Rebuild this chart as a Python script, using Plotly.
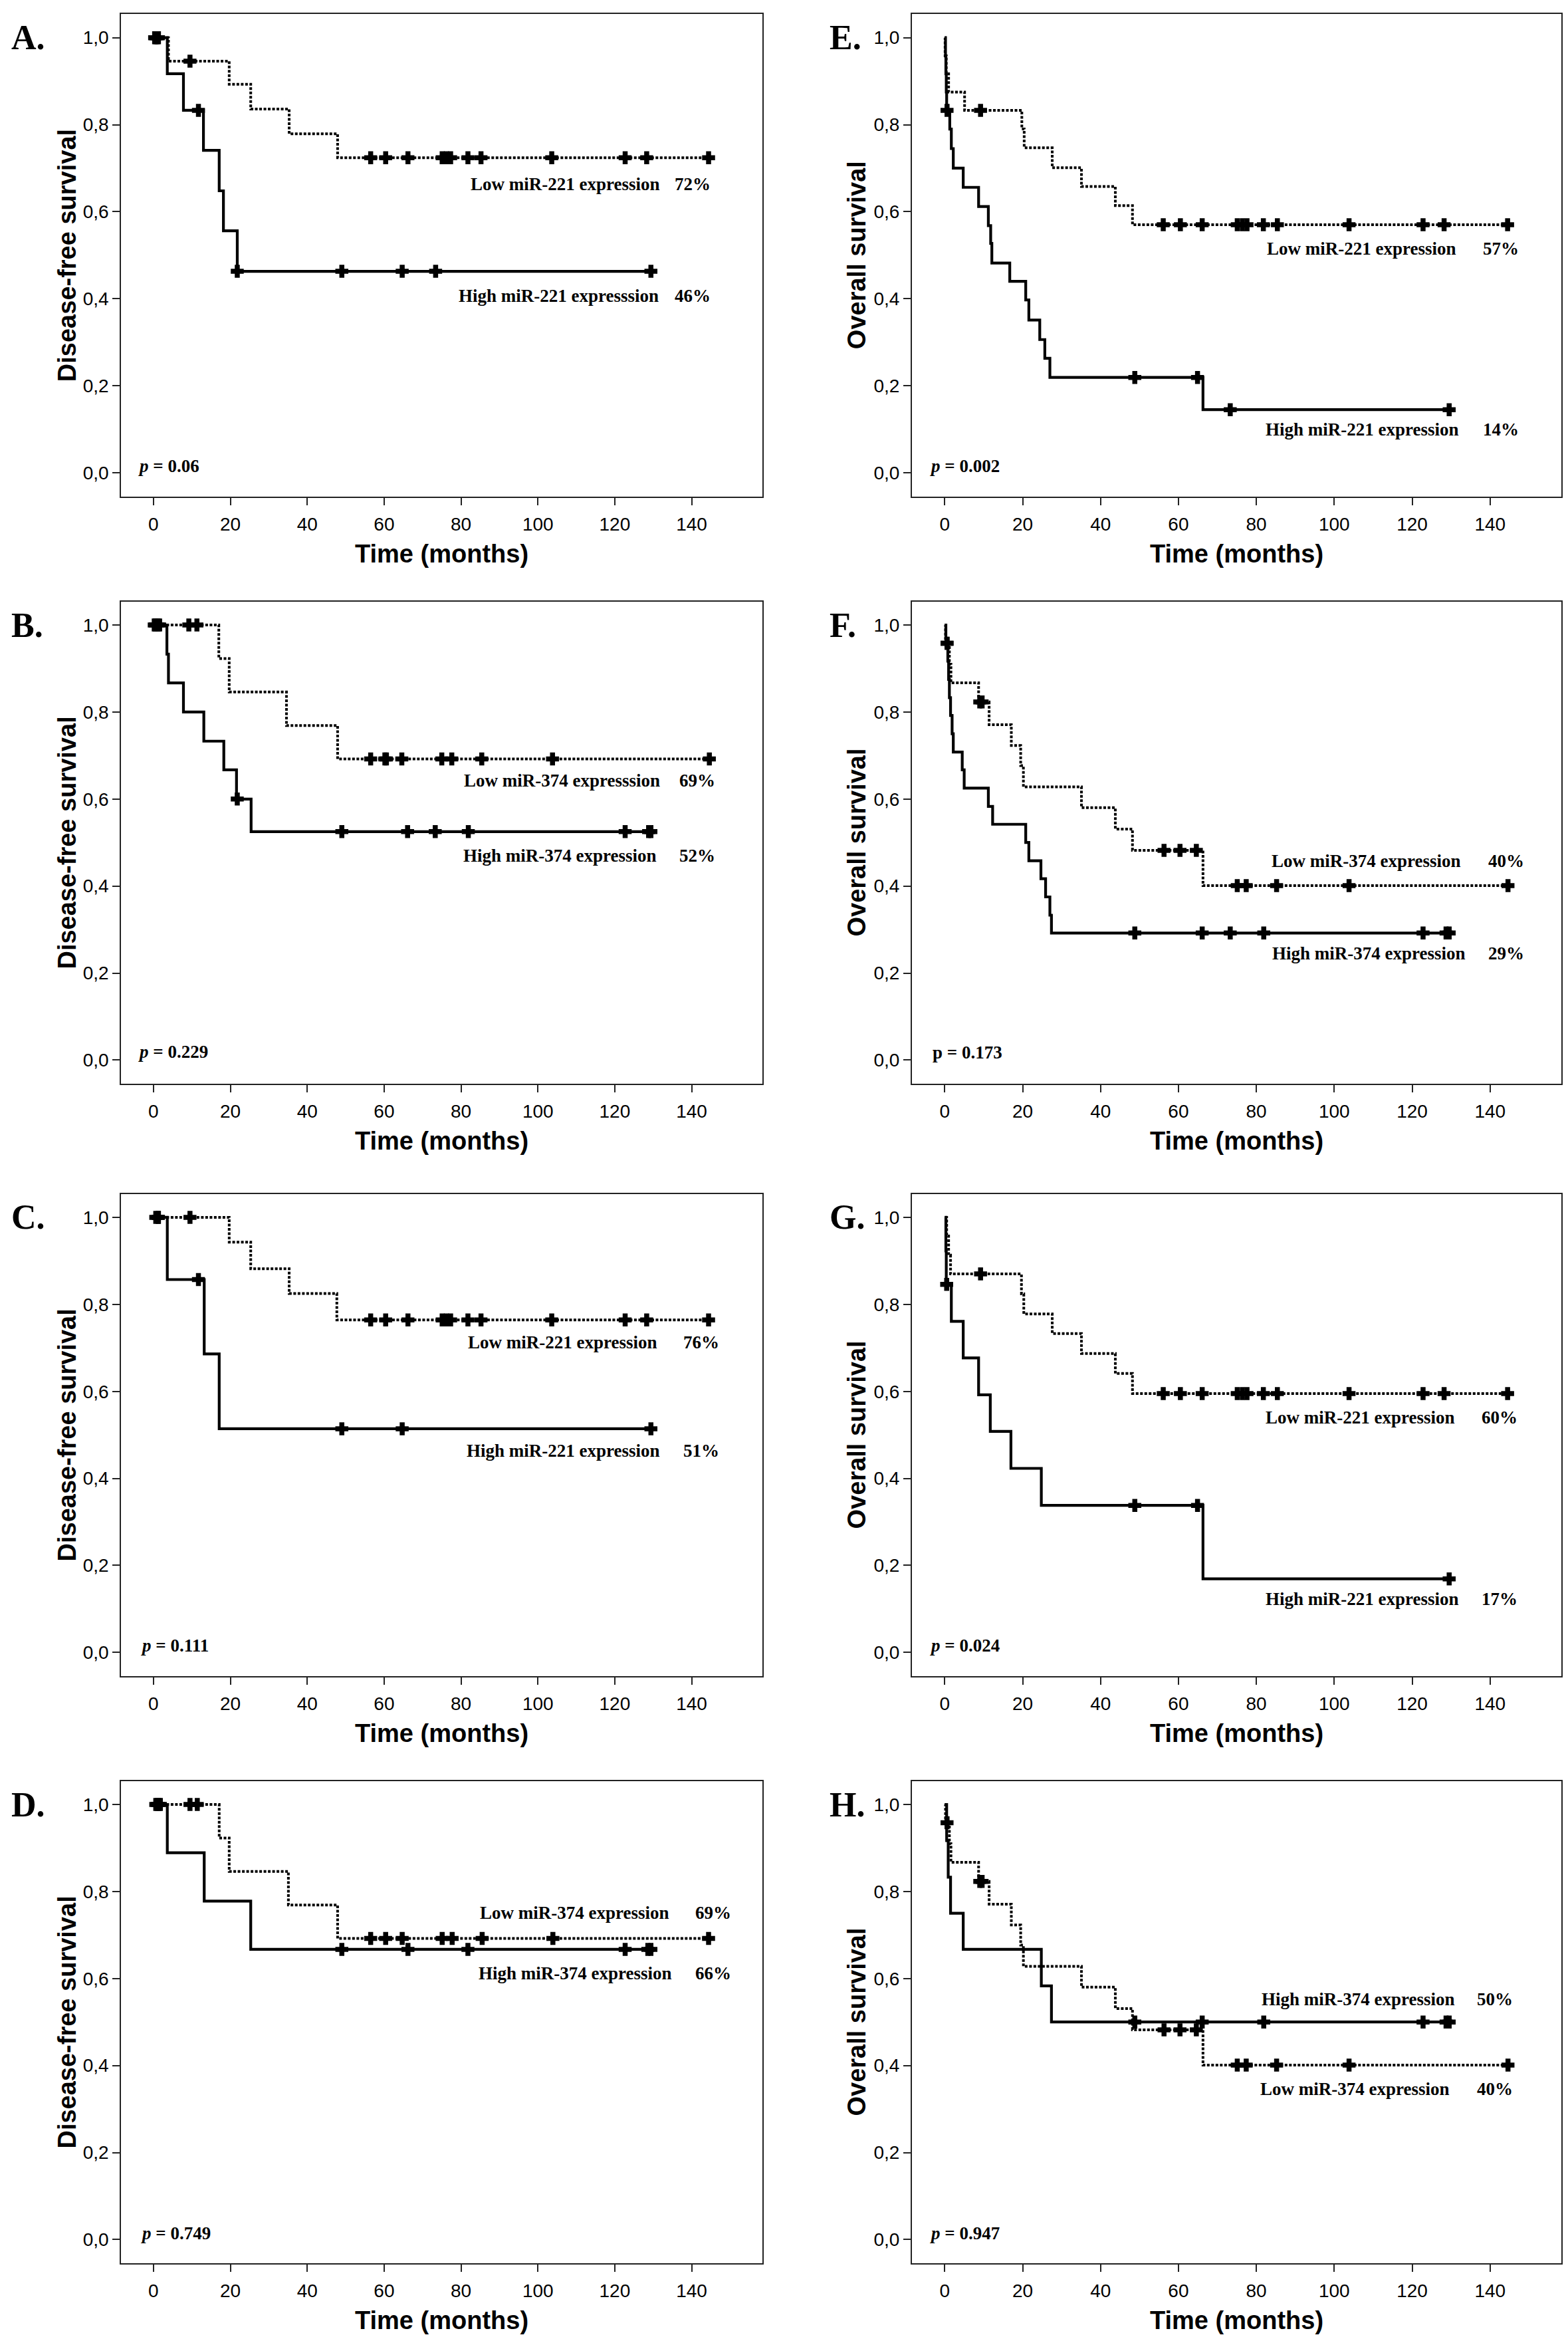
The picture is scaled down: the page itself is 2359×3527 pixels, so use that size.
import plotly.graph_objects as go

# ---------------- data ----------------
TIME_TICKS = [0, 20, 40, 60, 80, 100, 120, 140]
SURV_TICKS = [0.0, 0.2, 0.4, 0.6, 0.8, 1.0]
SURV_TICKTEXT = ["0,0", "0,2", "0,4", "0,6", "0,8", "1,0"]

# Panel A - Disease-free survival, miR-221
A_high_t = [0, 3.6, 7.8, 13.0, 17.1, 18.2, 21.8, 129.4]
A_high_s = [1.0, 0.917, 0.833, 0.741, 0.648, 0.556, 0.463, 0.463]
A_high_c = [0.6, 1.3, 11.7, 21.8, 49.0, 64.7, 73.4, 129.4]
A_low_t = [0, 3.9, 19.7, 25.3, 35.3, 47.9, 144.4]
A_low_s = [1.0, 0.946, 0.893, 0.836, 0.779, 0.724, 0.724]
A_low_c = [0.3, 1.0, 9.5, 56.5, 60.4, 66.2, 75.1, 76.2, 77.3, 81.8, 85.2, 103.6, 122.7, 128.3, 144.4]

# Panel E - Overall survival, miR-221
E_high_t = [0, 0.2, 0.3, 0.4, 0.5, 1.3, 1.7, 2.2, 4.75, 8.7, 11.2, 11.8, 12.1, 16.7, 20.8, 21.6, 24.4, 25.7, 27.0, 66.3, 129.5]
E_high_s = [1.0, 0.958, 0.917, 0.875, 0.833, 0.79, 0.745, 0.70, 0.656, 0.612, 0.568, 0.527, 0.482, 0.44, 0.397, 0.351, 0.306, 0.263, 0.219, 0.145, 0.145]
E_high_c = [0.6, 48.8, 64.9, 73.3, 129.5]
E_low_t = [0, 0.1, 0.4, 1.0, 5.1, 19.8, 20.4, 27.6, 35.1, 43.8, 48.2, 144.5]
E_low_s = [1.0, 0.958, 0.917, 0.875, 0.833, 0.79, 0.747, 0.701, 0.658, 0.614, 0.570, 0.570]
E_low_c = [9.2, 56.1, 60.5, 66.1, 75.1, 76.4, 77.6, 81.8, 85.4, 103.8, 122.8, 128.2, 144.5]

# Panel B - Disease-free survival, miR-374
B_high_t = [0, 3.5, 3.9, 7.8, 13.1, 18.3, 21.6, 25.4, 129.4]
B_high_s = [1.0, 0.933, 0.867, 0.80, 0.733, 0.667, 0.60, 0.525, 0.525]
B_high_c = [0.5, 1.2, 21.8, 49.0, 66.1, 73.3, 81.9, 122.7, 128.8, 129.4]
B_low_t = [0, 17.0, 19.7, 34.6, 47.9, 144.6]
B_low_s = [1.0, 0.923, 0.846, 0.769, 0.692, 0.692]
B_low_c = [0.2, 1.6, 9.2, 11.3, 56.5, 60.2, 60.6, 64.6, 75.0, 77.6, 85.4, 103.8, 144.6]

# Panel F - Overall survival, miR-374
F_high_t = [0, 0.3, 0.8, 1.0, 1.2, 1.5, 1.9, 2.2, 4.5, 5.0, 11.2, 12.3, 20.8, 21.6, 24.7, 25.9, 27.0, 27.4, 129.5]
F_high_s = [1.0, 0.958, 0.917, 0.875, 0.833, 0.792, 0.75, 0.708, 0.667, 0.625, 0.583, 0.542, 0.50, 0.458, 0.417, 0.375, 0.333, 0.292, 0.292]
F_high_c = [0.6, 48.8, 66.1, 73.3, 81.9, 122.8, 128.7, 129.5]
F_low_t = [0, 0.2, 1.2, 1.6, 8.7, 11.4, 17.1, 19.5, 20.2, 35.1, 43.8, 48.2, 66.3, 144.6]
F_low_s = [1.0, 0.958, 0.91, 0.867, 0.823, 0.771, 0.723, 0.677, 0.628, 0.58, 0.531, 0.482, 0.401, 0.401]
F_low_c = [0.6, 9.0, 9.6, 56.3, 60.4, 64.6, 75.1, 77.4, 85.2, 103.8, 144.6]

# Panel C - Disease-free survival, miR-221
C_high_t = [0, 3.6, 13.2, 17.1, 129.4]
C_high_s = [1.0, 0.857, 0.686, 0.514, 0.514]
C_high_c = [0.6, 1.2, 11.7, 49.0, 64.7, 129.4]
C_low_t = [0, 19.7, 25.3, 35.3, 47.7, 144.4]
C_low_s = [1.0, 0.943, 0.882, 0.825, 0.764, 0.764]
C_low_c = [1.3, 9.5, 56.5, 60.4, 66.2, 75.1, 76.2, 77.3, 81.8, 85.2, 103.6, 122.7, 128.3, 144.4]

# Panel G - Overall survival, miR-221
G_high_t = [0, 0.3, 0.4, 1.7, 4.75, 8.7, 11.7, 17.0, 24.8, 66.3, 129.5]
G_high_s = [1.0, 0.923, 0.846, 0.761, 0.677, 0.592, 0.508, 0.423, 0.338, 0.169, 0.169]
G_high_c = [0.5, 48.8, 64.9, 129.5]
G_low_t = [0, 0.5, 1.0, 1.5, 19.7, 20.3, 27.6, 35.1, 43.8, 48.2, 144.5]
G_low_s = [1.0, 0.957, 0.913, 0.870, 0.824, 0.778, 0.733, 0.687, 0.641, 0.595, 0.595]
G_low_c = [9.2, 56.1, 60.5, 66.1, 75.1, 76.4, 77.6, 81.8, 85.4, 103.8, 122.8, 128.2, 144.5]

# Panel D - Disease-free survival, miR-374
D_high_t = [0, 3.6, 13.2, 25.3, 129.4]
D_high_s = [1.0, 0.889, 0.778, 0.667, 0.667]
D_high_c = [0.6, 1.8, 49.0, 66.2, 81.8, 122.7, 128.6, 129.4]
D_low_t = [0, 17.1, 19.7, 35.1, 47.9, 144.4]
D_low_s = [1.0, 0.923, 0.846, 0.769, 0.692, 0.692]
D_low_c = [1.0, 1.4, 9.5, 11.4, 56.5, 60.4, 64.7, 75.1, 77.7, 85.5, 103.9, 144.4]

# Panel H - Overall survival, miR-374
H_high_t = [0, 0.5, 0.9, 1.5, 4.75, 24.8, 27.4, 129.5]
H_high_s = [1.0, 0.917, 0.833, 0.75, 0.667, 0.583, 0.50, 0.50]
H_high_c = [48.8, 66.1, 81.9, 122.8, 128.7, 129.5]
H_low_t = [0, 0.2, 1.2, 1.6, 8.7, 11.4, 17.1, 19.5, 20.2, 35.1, 43.8, 48.2, 66.3, 144.6]
H_low_s = [1.0, 0.958, 0.91, 0.867, 0.823, 0.771, 0.723, 0.677, 0.628, 0.58, 0.531, 0.482, 0.401, 0.401]
H_low_c = [0.6, 9.0, 9.6, 56.3, 60.4, 64.6, 75.1, 77.4, 85.2, 103.8, 144.6]

# panel texts
PANEL_LETTERS = ["A.", "E.", "B.", "F.", "C.", "G.", "D.", "H."]
Y_TITLES = ["Disease-free survival", "Overall survival"] * 4
LOW_LABELS = ["Low miR-221 expression", "Low miR-221 expression", "Low miR-374 expresssion",
              "Low miR-374 expression", "Low miR-221 expression", "Low miR-221 expression",
              "Low miR-374 expression", "Low miR-374 expression"]
HIGH_LABELS = ["High miR-221 expresssion", "High miR-221 expression", "High miR-374 expression",
               "High miR-374 expression", "High miR-221 expression", "High miR-221 expression",
               "High miR-374 expression", "High miR-374 expression"]
LOW_PCT = ["72%", "57%", "69%", "40%", "76%", "60%", "69%", "40%"]
HIGH_PCT = ["46%", "14%", "52%", "29%", "51%", "17%", "66%", "50%"]
P_TEXTS = ["<i>p</i> = 0.06", "<i>p</i> = 0.002", "<i>p</i> = 0.229", "p = 0.173",
           "<i>p</i> = 0.111", "<i>p</i> = 0.024", "<i>p</i> = 0.749", "<i>p</i> = 0.947"]
# label positions (data coords): label right x, pct right x, y
LOW_POS = [(132.2, 145.2, 0.664), (131.6, 147.7, 0.515), (132.1, 146.4, 0.643), (132.9, 149.0, 0.457),
           (131.4, 147.5, 0.713), (131.4, 147.4, 0.540), (134.5, 150.6, 0.751), (130.0, 146.2, 0.346)]
HIGH_POS = [(131.8, 145.2, 0.407), (132.4, 147.7, 0.099), (131.3, 146.4, 0.470), (134.0, 149.0, 0.245),
            (132.2, 147.5, 0.463), (132.3, 147.4, 0.122), (135.3, 150.6, 0.612), (131.3, 146.2, 0.552)]
P_POS = [(-4.25, 0.015), (-4.1, 0.015), (-4.3, 0.019), (-3.5, 0.017),
         (-3.6, 0.015), (-4.1, 0.015), (-3.6, 0.015), (-4.1, 0.015)]

CURVES = [
    (A_high_t, A_high_s, A_high_c, A_low_t, A_low_s, A_low_c),
    (E_high_t, E_high_s, E_high_c, E_low_t, E_low_s, E_low_c),
    (B_high_t, B_high_s, B_high_c, B_low_t, B_low_s, B_low_c),
    (F_high_t, F_high_s, F_high_c, F_low_t, F_low_s, F_low_c),
    (C_high_t, C_high_s, C_high_c, C_low_t, C_low_s, C_low_c),
    (G_high_t, G_high_s, G_high_c, G_low_t, G_low_s, G_low_c),
    (D_high_t, D_high_s, D_high_c, D_low_t, D_low_s, D_low_c),
    (H_high_t, H_high_s, H_high_c, H_low_t, H_low_s, H_low_c),
]

# ---------------- layout geometry ----------------
W, H = 2359, 3527
ROW_TOP = [13.3, 896.7, 1787.6, 2670.7]
BOX_H = 725.7
Y_RANGE = [-0.055, 1.054]
COL_BOX = [(174.3, 1139.0), (1364.0, 2341.0)]
COL_XRANGE = [[-8.4, 158.4], [-8.41, 158.3]]
COL_YTITLE_X = [93.0, 1281.0]
COL_LETTER_X = [7.0, 1238.0]

SERIF = "Liberation Serif"
SANS = "Liberation Sans"


def surv_at(ts, ss, tc):
    v = ss[0]
    for t, s in zip(ts, ss):
        if t <= tc:
            v = s
    return v


fig = go.Figure()
annotations = []
layout_axes = {}

for i in range(8):
    row, col = i // 2, i % 2
    n = i + 1
    xname = "x" if n == 1 else f"x{n}"
    yname = "y" if n == 1 else f"y{n}"
    xkey = "xaxis" if n == 1 else f"xaxis{n}"
    ykey = "yaxis" if n == 1 else f"yaxis{n}"

    top_px = ROW_TOP[row]
    bot_px = ROW_TOP[row] + BOX_H
    one_px = top_px + (Y_RANGE[1] - 1.0) / (Y_RANGE[1] - Y_RANGE[0]) * BOX_H
    x0, x1 = COL_BOX[col]

    layout_axes[xkey] = dict(
        domain=[x0 / W, x1 / W], range=COL_XRANGE[col], anchor=yname,
        tickvals=TIME_TICKS, ticks="outside", ticklen=11, tickwidth=2, tickcolor="#222",
        tickfont=dict(family=SANS, size=28, color="black"), ticklabelstandoff=4,
        showline=True, linecolor="#222", linewidth=2, mirror=True,
        showgrid=False, zeroline=False, fixedrange=True,
    )
    layout_axes[ykey] = dict(
        domain=[1 - bot_px / H, 1 - top_px / H], range=Y_RANGE, anchor=xname,
        tickvals=SURV_TICKS, ticktext=SURV_TICKTEXT, ticks="outside", ticklen=11,
        tickwidth=2, tickcolor="#222",
        tickfont=dict(family=SANS, size=28, color="black"), ticklabelstandoff=0,
        showline=True, linecolor="#222", linewidth=2, mirror=True,
        showgrid=False, zeroline=False, fixedrange=True,
    )

    ht, hs, hc, lt, ls, lc = CURVES[i]
    # low expression: dotted
    fig.add_trace(go.Scatter(x=lt, y=ls, mode="lines", xaxis=xname, yaxis=yname,
                             line=dict(shape="hv", color="black", width=4, dash="4px,2.5px"),
                             showlegend=False, hoverinfo="skip"))
    fig.add_trace(go.Scatter(x=lc, y=[surv_at(lt, ls, c) for c in lc], mode="markers",
                             xaxis=xname, yaxis=yname,
                             marker=dict(symbol="cross", size=15, color="black",
                                         line=dict(color="black", width=1.5)),
                             showlegend=False, hoverinfo="skip"))
    # high expression: solid
    fig.add_trace(go.Scatter(x=ht, y=hs, mode="lines", xaxis=xname, yaxis=yname,
                             line=dict(shape="hv", color="black", width=4.2),
                             showlegend=False, hoverinfo="skip"))
    fig.add_trace(go.Scatter(x=hc, y=[surv_at(ht, hs, c) for c in hc], mode="markers",
                             xaxis=xname, yaxis=yname,
                             marker=dict(symbol="cross", size=15, color="black",
                                         line=dict(color="black", width=1.5)),
                             showlegend=False, hoverinfo="skip"))

    lab_font = dict(family=SERIF, size=27, color="black", weight="bold")
    lx, lpx, ly = LOW_POS[i]
    hx, hpx, hy = HIGH_POS[i]
    annotations += [
        dict(x=lx, y=ly, xref=xname, yref=yname, text=LOW_LABELS[i], showarrow=False,
             xanchor="right", yanchor="middle", font=lab_font),
        dict(x=lpx, y=ly, xref=xname, yref=yname, text=LOW_PCT[i], showarrow=False,
             xanchor="right", yanchor="middle", font=lab_font),
        dict(x=hx, y=hy, xref=xname, yref=yname, text=HIGH_LABELS[i], showarrow=False,
             xanchor="right", yanchor="middle", font=lab_font),
        dict(x=hpx, y=hy, xref=xname, yref=yname, text=HIGH_PCT[i], showarrow=False,
             xanchor="right", yanchor="middle", font=lab_font),
        dict(x=P_POS[i][0], y=P_POS[i][1], xref=xname, yref=yname, text=P_TEXTS[i],
             showarrow=False, xanchor="left", yanchor="middle", font=lab_font),
        # axis titles
        dict(x=(x0 + x1) / 2 / W, y=1 - (bot_px + 86) / H, xref="paper", yref="paper",
             text="Time (months)", showarrow=False, xanchor="center", yanchor="middle",
             font=dict(family=SANS, size=38, color="black", weight="bold")),
        dict(x=COL_YTITLE_X[col] / W, y=1 - (top_px + bot_px) / 2 / H, xref="paper", yref="paper",
             text=Y_TITLES[i], textangle=-90, showarrow=False, xanchor="center",
             yanchor="middle", font=dict(family=SANS, size=38, color="black", weight="bold")),
        # panel letter
        dict(x=COL_LETTER_X[col] / W, y=1 - one_px / H, xref="paper", yref="paper",
             text=PANEL_LETTERS[i], showarrow=False, xanchor="left", yanchor="middle",
             font=dict(family=SERIF, size=52, color="black", weight="bold")),
    ]

fig.update_layout(
    width=W, height=H, margin=dict(l=0, r=0, t=0, b=0, autoexpand=False),
    paper_bgcolor="white", plot_bgcolor="white",
    annotations=annotations, **layout_axes,
)

fig.write_html("out.html", config={"displayModeBar": False})
